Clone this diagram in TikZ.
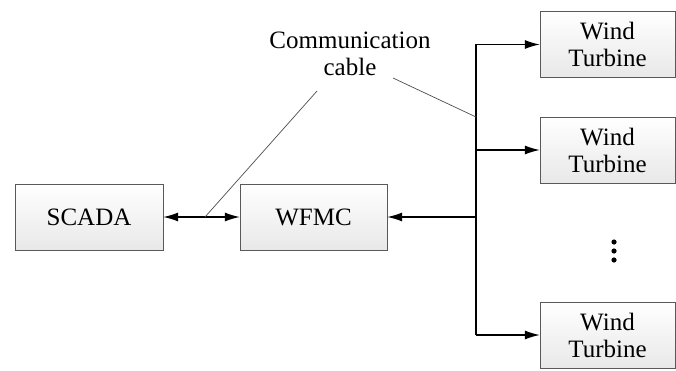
\documentclass[tikz,border=0pt]{standalone}
\usepackage{fontspec}
\setmainfont{Liberation Serif}
\usetikzlibrary{arrows.meta}

\begin{document}
\begin{tikzpicture}[x=1pt, y=1pt, font=\fontsize{25}{27}\selectfont,
    box/.style = {draw=gray!70!black, thin, top color=white, bottom color=gray!18, minimum height=66pt, align=center, inner sep=0pt},
    link/.style = {line width=1.2pt, -{Latex[length=15pt, width=9pt]}},
    cable/.style = {draw=black!70, line width=0.7pt}]
                    \useasboundingbox (0,0) rectangle (676,370);
                    \node[box, minimum width=148pt] (scada) at (89,153) {SCADA};
                    \node[box, minimum width=147pt] (wfmc) at (313.5,153) {WFMC};
                    \node[box, minimum width=135pt] (wt1) at (607.5,325.5) {Wind\\Turbine};
                    \node[box, minimum width=135pt] (wt2) at (607.5,220) {Wind\\Turbine};
                    \node[box, minimum width=135pt] (wt3) at (607.5,35) {Wind\\Turbine};
                    \foreach \y in {110,119,128}
                        \fill (614,\y) circle (2.6pt);
                    \node[align=center] (lbl) at (350,316) {Communication\\cable};
                    \coordinate (bus) at (476,153);
                    \coordinate (mid) at (205,153);
                    \coordinate (tap) at (476,253);
                    \draw[link, {Latex[length=15pt, width=9pt]}-{Latex[length=15pt, width=9pt]}] (scada) -- (wfmc);
                    \draw[link] (bus) -- (wfmc);
                    \draw[line width=1.2pt] (bus |- wt3) -- (bus |- wt1);
                    \draw[link] (bus |- wt1) -- (wt1);
                    \draw[link] (bus |- wt2) -- (wt2);
                    \draw[link] (bus |- wt3) -- (wt3);
                    \draw[cable] (mid) -- (317,279);
                    \draw[cable] (393,292) -- (tap);
                \end{tikzpicture}
\end{document}
